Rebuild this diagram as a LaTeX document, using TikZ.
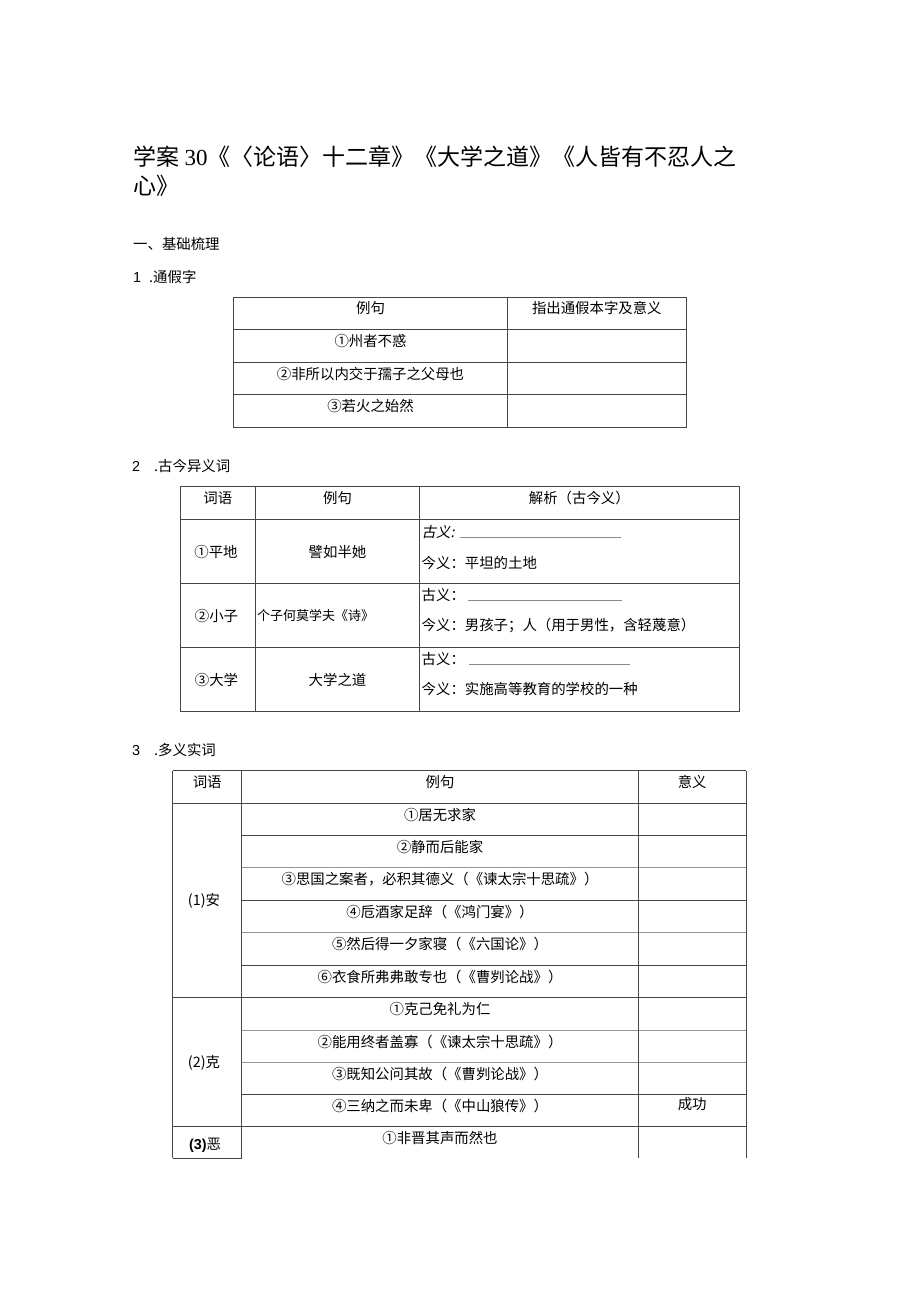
\documentclass[tikz,border=0pt]{standalone}
\usepackage{fontspec}
\setmainfont{Noto Sans CJK SC}
\newfontfamily\serifnum{Liberation Serif}
\newfontfamily\sansnum{Liberation Sans}
\newfontfamily\slantcjk[FakeSlant=0.2]{Noto Sans CJK SC}
\definecolor{rulegray}{RGB}{70,70,70}
\definecolor{rulelight}{RGB}{150,150,150}
\definecolor{blankline}{RGB}{125,145,125}

\begin{document}
\begin{tikzpicture}
          [x=1pt,y=-1pt,
           cell/.style={inner sep=0pt, anchor=base, font=\fontsize{14.4}{16}\selectfont},
           lcell/.style={cell, anchor=base west},
           titletext/.style={inner sep=0pt, anchor=base west, font=\fontsize{23}{28}\selectfont},
           rule/.style={draw=rulegray, line width=1pt},
           softrule/.style={draw=rulelight, line width=1pt},
           blank/.style={draw=blankline, line width=0.8pt}]
        \useasboundingbox (0,0) rectangle (920,1301);

        % title and headings
        \node[titletext] (title1) at (133.3,165.5) {学案 {\serifnum 30}《〈论语〉十二章》《大学之道》《人皆有不忍人之};
        \node[titletext] (title2) at (133.3,194) {心》};
        \node[lcell] (sec1) at (133,249.5) {一、基础梳理};
        \node[lcell] (sub1) at (133,282.5) {{\sansnum 1}\hspace{8pt}.通假字};
        \node[lcell] (sub2) at (132,471.5) {{\sansnum 2}\hspace{14pt}.古今异义词};
        \node[lcell] (sub3) at (132,755.5) {{\sansnum 3}\hspace{14pt}.多义实词};

        % table 1
        \draw[rule] (233.5,297) rectangle (686,427.5);
        \foreach \y in {329.5,362,394.5}
          \draw[rule] (233.5,\y) -- (686,\y);
        \draw[rule] (507.7,297) -- (507.7,427.5);
        \node[cell] (a0) at (370.5,313.5) {例句};
        \node[cell] (a0r) at (596.8,313.5) {指出通假本字及意义};
        \node[cell] (a1) at (370.5,346.5) {①州者不惑};
        \node[cell] (a2) at (370.5,379) {②非所以内交于孺子之父母也};
        \node[cell] (a3) at (370.5,411.5) {③若火之始然};

        % table 2
        \draw[rule] (180,486.7) rectangle (739.3,711.7);
        \foreach \y in {519.3,583.3,647.3}
          \draw[rule] (180,\y) -- (739.3,\y);
        \foreach \x in {255.7,419.3}
          \draw[rule] (\x,486.7) -- (\x,711.7);
        \node[cell] (b0) at (217.8,503.8) {词语};
        \node[cell] (b0m) at (337.5,503.8) {例句};
        \node[cell] (b0r) at (579.3,503.8) {解析（古今义）};
        \node[cell] (b1) at (216,557.2) {①平地};
        \node[cell] (b1m) at (337.5,557.2) {譬如半她};
        \node[cell] (b2) at (216.5,621.2) {②小子};
        \node[lcell, font=\fontsize{13}{15}\selectfont] (b2m) at (257,620.5) {个子何莫学夫《诗》};
        \node[cell] (b3) at (216.5,685.5) {③大学};
        \node[cell] (b3m) at (337.5,685.5) {大学之道};
        \node[lcell] (g1) at (421.5,537.2) {\slantcjk 古义:};
        \node[lcell] (j1) at (421.5,568.8) {今义：平坦的土地};
        \node[lcell] (g2) at (421.5,600.5) {古义：};
        \node[lcell] (j2) at (421.5,630.5) {今义：男孩子；人（用于男性，含轻蔑意）};
        \node[lcell] (g3) at (421.5,664.5) {古义：};
        \node[lcell] (j3) at (421.5,694.5) {今义：实施高等教育的学校的一种};
        \draw[blank] (460,537.5) -- (620.7,537.5);
        \draw[blank] (468.3,600.3) -- (622.3,600.3);
        \draw[blank] (469.3,664.3) -- (630,664.3);

        % table 3
        \foreach \y in {770.7,803.3,997.3,1126.7}
          \draw[rule] (172.7,\y) -- (746,\y);
        \foreach \y in {835.7,900.3,965.3,1094.3}
          \draw[rule] (241.7,\y) -- (746,\y);
        \foreach \y in {867.7,932.7,1030,1062.3}
          \draw[softrule] (241.7,\y) -- (746,\y);
        \draw[rule] (172.7,1158.3) -- (241.7,1158.3);
        \foreach \x in {172.7,241.7,638.3,746}
          \draw[rule] (\x,770.7) -- (\x,1158.3);
        \node[cell] (c0) at (207.2,787.5) {词语};
        \node[cell] (c0m) at (440,787.5) {例句};
        \node[cell] (c0r) at (692.2,787.5) {意义};
        \node[cell] (an) at (204,905.8) {(1)安};
        \node[cell] (ke) at (204,1067.5) {(2)克};
        \node[cell] (e) at (205,1149.5) {{\sansnum\bfseries (3)}恶};
        \node[cell] (an1) at (440,820.3) {①居无求家};
        \node[cell] (an2) at (440,852.7) {②静而后能家};
        \node[cell] (an3) at (440,884.7) {③思国之案者，必积其德义（《谏太宗十思疏》）};
        \node[cell] (an4) at (440,917.3) {④卮酒家足辞（《鸿门宴》）};
        \node[cell] (an5) at (440,949.7) {⑤然后得一夕家寝（《六国论》）};
        \node[cell] (an6) at (440,982.3) {⑥衣食所弗弗敢专也（《曹刿论战》）};
        \node[cell] (ke1) at (440,1014.3) {①克己免礼为仁};
        \node[cell] (ke2) at (440,1047) {②能用终者盖寡（《谏太宗十思疏》）};
        \node[cell] (ke3) at (440,1079.3) {③既知公问其故（《曹刿论战》）};
        \node[cell] (ke4) at (440,1111.3) {④三纳之而未卑（《中山狼传》）};
        \node[cell] (ke4r) at (692.2,1109.8) {成功};
        \node[cell] (e1) at (440,1143.7) {①非晋其声而然也};
      \end{tikzpicture}
\end{document}
